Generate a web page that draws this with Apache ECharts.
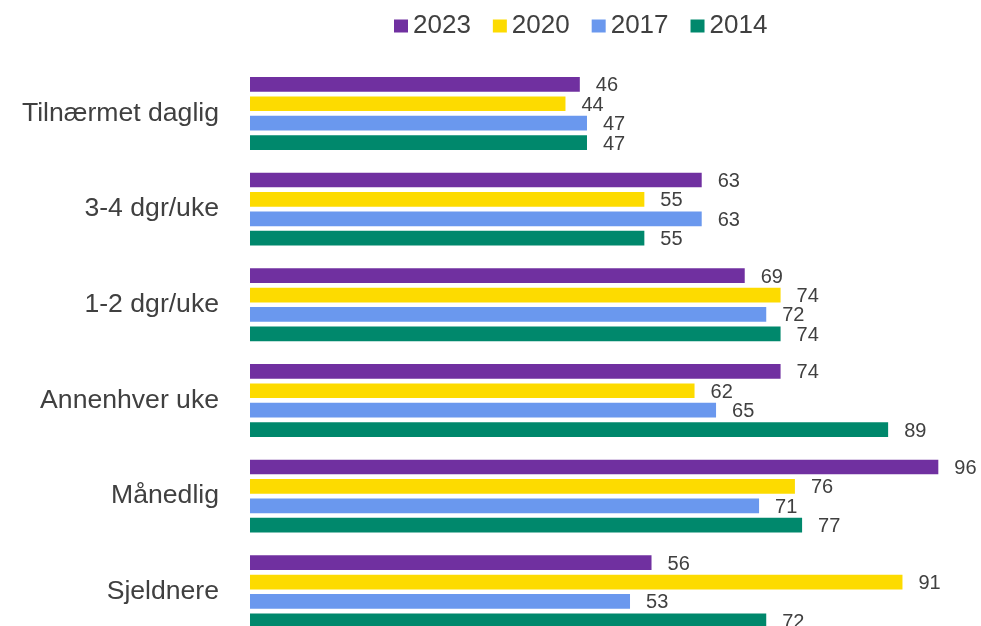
<!DOCTYPE html>
<html>
<head>
<meta charset="utf-8">
<script src="https://cdn.jsdelivr.net/npm/echarts@6/dist/echarts.min.js"></script>
<style>html,body{margin:0;padding:0;background:#fff}#c{width:981px;height:626px}</style>
</head>
<body>
<div id="c"></div>
<script>
const categories = ['Tilnærmet daglig', '3-4 dgr/uke', '1-2 dgr/uke', 'Annenhver uke', 'Månedlig', 'Sjeldnere'];
const seriesNames = ['2023', '2020', '2017', '2014'];
const values2023 = [46, 63, 69, 74, 96, 56];
const values2020 = [44, 55, 74, 62, 76, 91];
const values2017 = [47, 63, 72, 65, 71, 53];
const values2014 = [47, 55, 74, 89, 77, 72];
const colors = ['#7030A0', '#FDDB00', '#6A98EE', '#00886C'];

const allValues = [values2023, values2020, values2017, values2014];
const chart = echarts.init(document.getElementById('c'), null, {renderer: 'canvas'});
const font = '"Liberation Sans", Arial, sans-serif';
chart.setOption({
  animation: false,
  legend: {
    data: seriesNames,
    left: 389,
    top: 8,
    icon: 'rect',
    itemWidth: 14,
    itemHeight: 13,
    itemGap: 22,
    textStyle: {fontSize: 26, color: '#404040', fontFamily: font}
  },
  grid: {left: 250, right: 14, top: 65.6, height: 574, containLabel: false, outerBoundsMode: 'none'},
  xAxis: {
    type: 'value', min: 0, max: 100,
    show: false
  },
  yAxis: {
    type: 'category', data: categories, inverse: true,
    axisLine: {show: false}, axisTick: {show: false}, splitLine: {show: false},
    axisLabel: {fontSize: 26.6, color: '#404040', fontFamily: font, margin: 31}
  },
  series: seriesNames.map((n, i) => ({
    name: n,
    type: 'bar',
    data: allValues[i],
    barWidth: 14.7,
    barGap: '32%',
    itemStyle: {color: colors[i]},
    label: {show: true, position: 'right', distance: 16, offset: [0, 1.5], fontSize: 20, color: '#404040', fontFamily: font}
  }))
});
</script>
</body>
</html>
